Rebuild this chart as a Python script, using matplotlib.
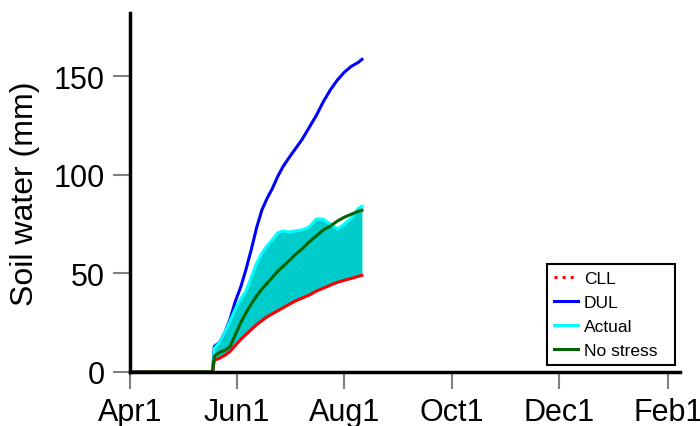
import matplotlib
matplotlib.use('Agg')
import matplotlib.pyplot as plt
from matplotlib.lines import Line2D
import pandas as pd

plt.rcParams['font.family'] = ['Liberation Sans', 'DejaVu Sans']

dates = ['2010-04-01', '2010-05-18', '2010-05-19', '2010-05-22', '2010-05-25',
         '2010-05-28', '2010-05-31', '2010-06-03', '2010-06-06', '2010-06-09',
         '2010-06-12', '2010-06-15', '2010-06-18', '2010-06-21', '2010-06-24',
         '2010-06-27', '2010-06-30', '2010-07-04', '2010-07-08', '2010-07-12',
         '2010-07-16', '2010-07-20', '2010-07-24', '2010-07-28', '2010-08-01',
         '2010-08-05', '2010-08-09', '2010-08-11']
cll = [0, 0, 6, 7, 8.5, 10.5, 13.5, 16.5, 19, 21.5, 24, 26, 28, 29.5, 31,
       32.5, 34, 36, 37.5, 39, 41, 42.5, 44, 45.5, 46.5, 47.5, 48.5, 49]
dul = [0, 0, 13, 15, 20, 27, 36, 43, 52, 62, 73, 82, 88, 93, 99, 104, 108,
       113, 118, 124, 130, 137, 143, 148, 152, 155, 157, 158.5]
actual = [0, 0, 12, 15, 20, 26, 32, 37, 41, 48, 55, 60, 64, 67, 70.5, 71.5,
          71, 71.5, 72, 73.5, 77.5, 77.5, 75, 72.5, 75, 78, 83, 84]
no_stress = [0, 0, 8, 10, 11, 13, 19, 25, 30, 34.5, 38.5, 42, 45, 48, 51,
             53.5, 56, 59.5, 62.5, 66, 69, 72, 74, 76.5, 78.5, 80, 81.5, 82]
tick_dates = ['2010-04-01', '2010-06-01', '2010-08-01', '2010-10-01',
              '2010-12-01', '2011-02-01']
tick_labels = ['Apr1', 'Jun1', 'Aug1', 'Oct1', 'Dec1', 'Feb1']
y_ticks = [0, 50, 100, 150]

fig = plt.figure(figsize=(7, 4.27), dpi=100)
ax = fig.add_axes([130 / 700, 54 / 427, 550 / 700, 359 / 427])
x = pd.to_datetime(dates)

lw = 2.2
ax.fill_between(x, cll, actual, color='#00CCCC', lw=0)
ax.plot(x, dul, color='#0000FF', lw=lw)
ax.plot(x, actual, color='#00FFFF', lw=lw)
ax.plot(x, cll, color='#FF0000', lw=lw)
ax.plot(x, no_stress, color='#006400', lw=lw)

ax.set_xlim(pd.Timestamp('2010-04-01'), pd.Timestamp('2011-02-08'))
ax.set_ylim(0, 182)
ax.set_xticks(pd.to_datetime(tick_dates))
ax.set_xticklabels(tick_labels)
ax.set_yticks(y_ticks)
ax.tick_params(axis='both', color='#808080', labelcolor='black', length=12,
               width=1.5, labelsize=22, pad=6)
for s in ['top', 'right']:
    ax.spines[s].set_visible(False)
for s in ['left', 'bottom']:
    ax.spines[s].set_linewidth(2.5)
    ax.spines[s].set_color('black')

ax.set_ylabel('Soil water (mm)', fontsize=23)
ax.yaxis.set_label_coords(25 / 700, 1 - 194 / 427, transform=fig.transFigure)
ax.yaxis.label.set_va('center')

handles = [Line2D([], [], color='#FF0000', lw=lw, ls=':'),
           Line2D([], [], color='#0000FF', lw=lw),
           Line2D([], [], color='#00FFFF', lw=lw),
           Line2D([], [], color='#006400', lw=lw)]
leg = ax.legend(handles, ['CLL', 'DUL', 'Actual', 'No stress'],
                loc='upper left',
                bbox_to_anchor=(547 / 700, 1 - 265 / 427, 128 / 700, 0),
                bbox_transform=fig.transFigure, borderaxespad=0, mode='expand',
                fancybox=False, edgecolor='black', fontsize=12.5,
                handlelength=1.38, labelspacing=0.5, borderpad=0.4,
                handletextpad=0.33, framealpha=1)
leg.get_frame().set_linewidth(1.5)

fig.savefig('out.png', dpi=100)
